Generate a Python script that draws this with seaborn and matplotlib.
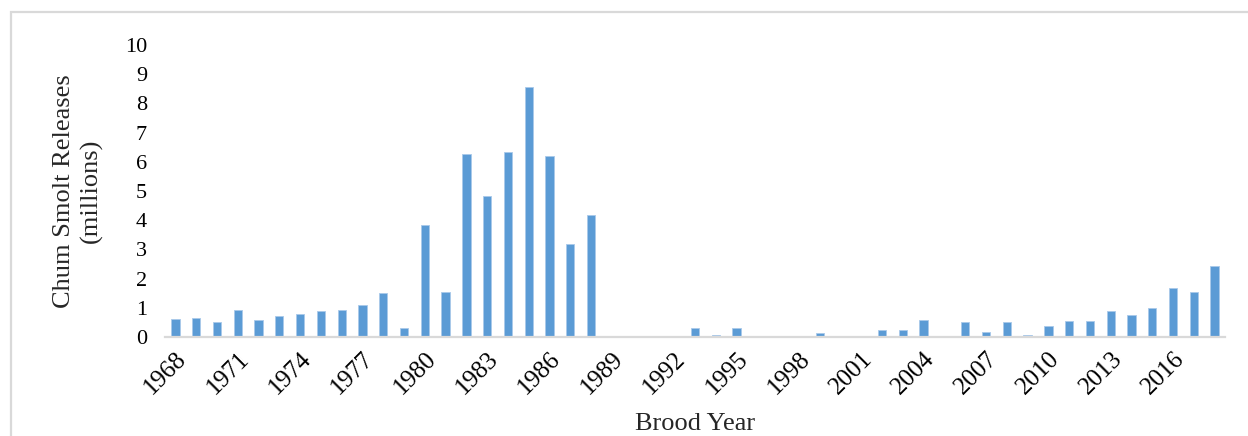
import matplotlib
matplotlib.use("Agg")
import matplotlib.pyplot as plt
import seaborn as sns
import pandas as pd

# brood years and chum smolt releases (millions)
years = list(range(1968, 2019))
releases = [
    0.63, 0.64, 0.50, 0.93, 0.58, 0.73, 0.80, 0.88, 0.91, 1.09,  # 1968-1977
    1.50, 0.30, 3.83, 1.53, 6.25, 4.82, 6.33, 8.57, 6.19, 3.19,  # 1978-1987
    4.18, 0.00, 0.00, 0.00, 0.00, 0.30, 0.08, 0.32, 0.00, 0.00,  # 1988-1997
    0.00, 0.14, 0.00, 0.00, 0.25, 0.25, 0.59, 0.00, 0.53, 0.16,  # 1998-2007
    0.51, 0.07, 0.37, 0.56, 0.56, 0.89, 0.75, 0.99, 1.68, 1.54,  # 2008-2017
    2.42,                                                        # 2018
]
tick_years = list(range(1968, 2017, 3))

df = pd.DataFrame({"year": [str(y) for y in years], "releases": releases})

sns.set_theme(style="white")
plt.rcParams["font.family"] = ["Liberation Serif", "DejaVu Serif"]

fig = plt.figure(figsize=(12.48, 4.36), dpi=100)
ax = fig.add_axes([0.1322, 0.2271, 0.8494, 0.6697])

sns.barplot(data=df, x="year", y="releases", color="#5B9BD5", saturation=1,
            width=0.4, edgecolor="#a9c9ea", linewidth=0.6, ax=ax)

ax.set_xlim(-0.5, len(years) - 0.5)
ax.set_ylim(0, 10)
ax.set_yticks(range(0, 11))
ax.set_yticklabels([str(v) for v in range(0, 11)], fontsize=16)
ax.set_xticks([years.index(y) for y in tick_years])
ax.set_xticklabels([str(y) for y in tick_years], rotation=45, ha="right",
                   rotation_mode="anchor", fontsize=18)
ax.tick_params(axis="both", length=0, colors="black")
ax.tick_params(axis="y", pad=13)
ax.tick_params(axis="x", pad=8)

for side in ["left", "right", "top"]:
    ax.spines[side].set_visible(False)
ax.spines["bottom"].set_color("#d9d9d9")
ax.spines["bottom"].set_linewidth(1.6)

ax.set_xlabel("Brood Year", fontsize=19, labelpad=10)
ax.set_ylabel("Chum Smolt Releases\n(millions)", fontsize=19, labelpad=16,
              linespacing=1.25)

# light chart-area frame like the source
frame = plt.Rectangle((11 / 1248, -0.1), 1.2, 1 - 12 / 436 + 0.1,
                      transform=fig.transFigure, fill=False,
                      edgecolor="#d9d9d9", linewidth=1.6)
fig.patches.append(frame)

fig.savefig("out.png", dpi=100)
